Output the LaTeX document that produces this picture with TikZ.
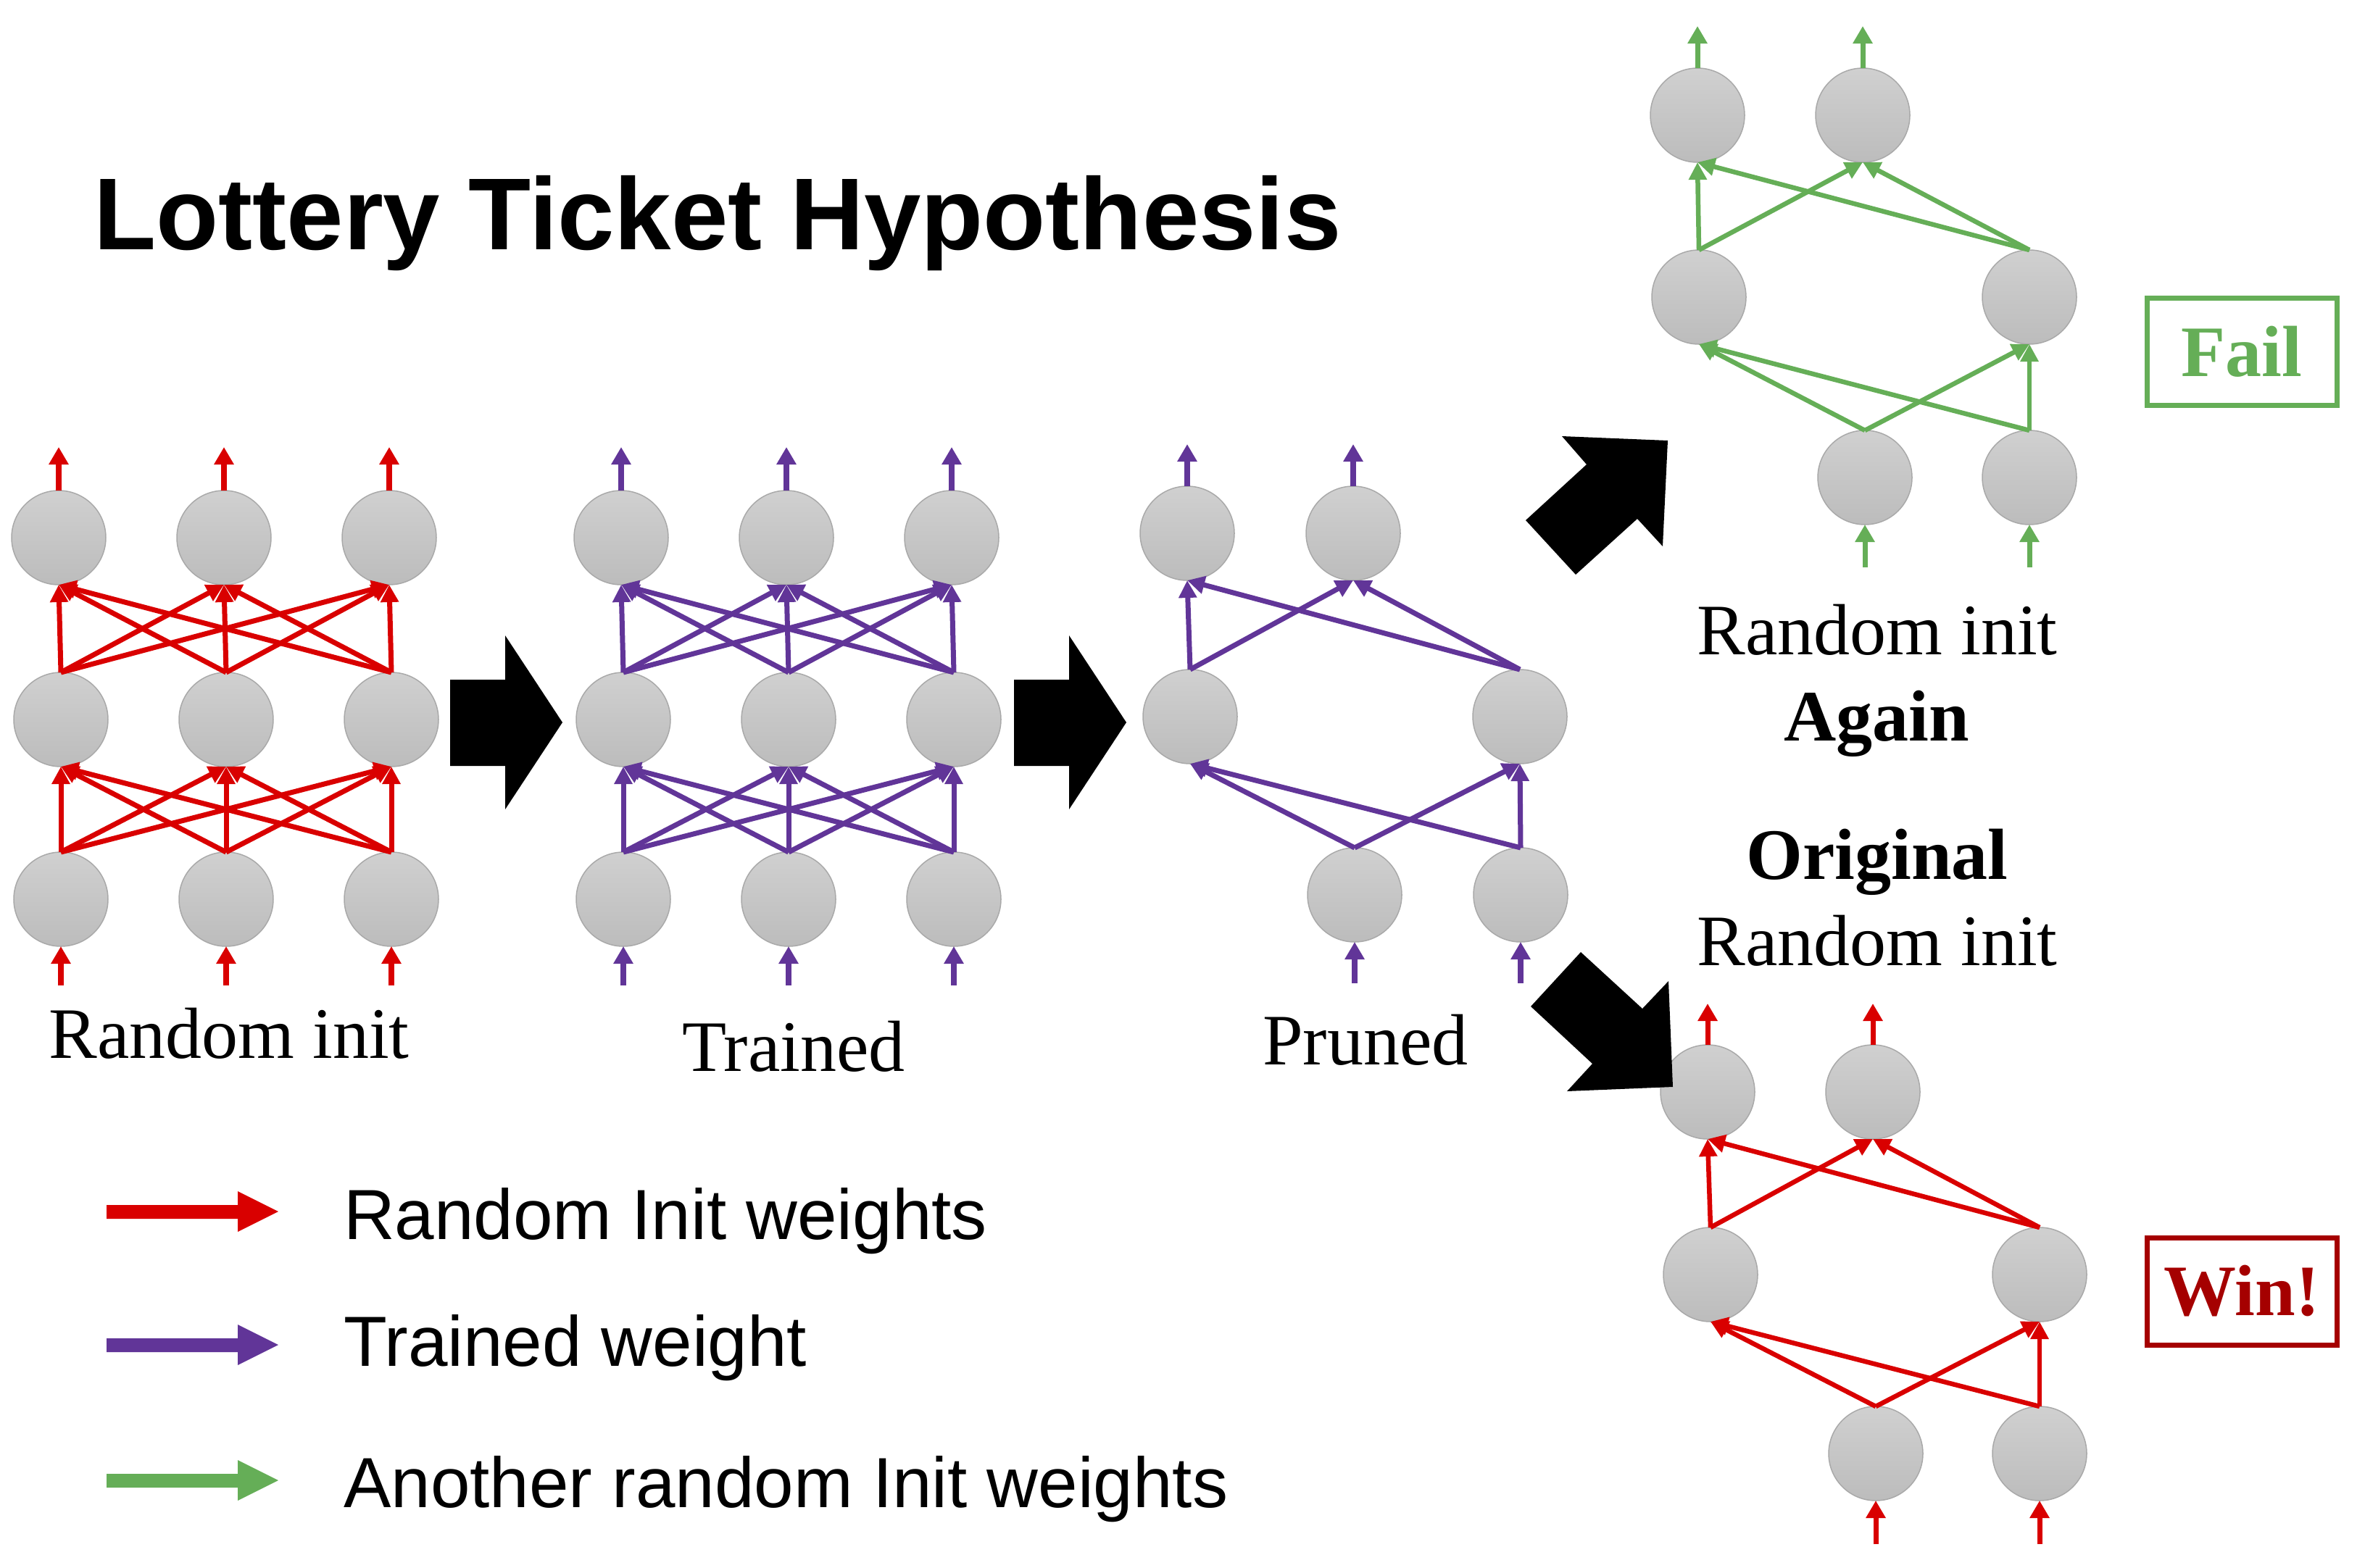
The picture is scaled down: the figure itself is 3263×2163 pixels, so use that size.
\documentclass[tikz,border=0pt]{standalone}
\usepackage{fontspec}
\setmainfont{Liberation Serif}
\setsansfont{Liberation Sans}
\usetikzlibrary{arrows.meta}
\definecolor{cred}{HTML}{D90000}
\definecolor{cpurp}{HTML}{613598}
\definecolor{cgreen}{HTML}{65AE57}
\definecolor{cwin}{HTML}{A50000}
\definecolor{ntop}{HTML}{D0D0D0}
\definecolor{nbot}{HTML}{BCBCBC}
\definecolor{nedge}{HTML}{A9A9A9}
\newcommand\lblfont{\fontsize{100}{118}\selectfont}
\begin{document}
\begin{tikzpicture}[x=1pt,y=-1pt,
  neuron/.style={circle, minimum size=130pt, inner sep=0pt, outer sep=0pt, draw=nedge, line width=1.5pt, top color=ntop, bottom color=nbot},
  wt/.style={line width=7pt, -{Triangle[width=24pt,length=24pt]}},
  io/.style={line width=8.5pt, -{Triangle[width=26pt,length=24pt]}},
  blk/.style={fill=black},
  badge/.style={draw, line width=7pt, minimum width=262pt, minimum height=148pt, inner sep=0pt, font=\lblfont\bfseries}
]
\useasboundingbox (0,0) rectangle (3263,2163);

% ---------- Title ----------
\node[anchor=base, font=\sffamily\bfseries\fontsize{141}{160}\selectfont] (title) at (990,344) {Lottery Ticket Hypothesis};

% ---------- Network 1 (random init, red) ----------
\foreach \i/\x in {1/81,2/309,3/537} {
  \node[neuron] (At\i) at (\x,742) {};
  \coordinate (Ao\i) at (\x,617);
}
\foreach \i/\x in {1/84,2/312,3/540} {
  \node[neuron] (Am\i) at (\x,993) {};
  \node[neuron] (Ab\i) at (\x,1241) {};
  \coordinate (Ai\i) at (\x,1360);
}
\foreach \i in {1,2,3} {
  \draw[io,cred] (At\i.north) -- (Ao\i);
  \draw[io,cred] (Ai\i) -- (Ab\i.south);
  \foreach \j in {1,2,3} {
    \draw[wt,cred] (Am\i.north) -- (At\j.south);
    \draw[wt,cred] (Ab\i.north) -- (Am\j.south);
  }
}
\node[anchor=base, font=\lblfont] (lab1) at (316,1460) {Random init};

% ---------- Network 2 (trained, purple) ----------
\foreach \i/\x in {1/857,2/1085,3/1313} {
  \node[neuron] (Bt\i) at (\x,742) {};
  \coordinate (Bo\i) at (\x,617);
}
\foreach \i/\x in {1/860,2/1088,3/1316} {
  \node[neuron] (Bm\i) at (\x,993) {};
  \node[neuron] (Bb\i) at (\x,1241) {};
  \coordinate (Bi\i) at (\x,1360);
}
\foreach \i in {1,2,3} {
  \draw[io,cpurp] (Bt\i.north) -- (Bo\i);
  \draw[io,cpurp] (Bi\i) -- (Bb\i.south);
  \foreach \j in {1,2,3} {
    \draw[wt,cpurp] (Bm\i.north) -- (Bt\j.south);
    \draw[wt,cpurp] (Bb\i.north) -- (Bm\j.south);
  }
}
\node[anchor=base, font=\lblfont] (lab2) at (1095,1478) {Trained};

% ---------- Network 3 (pruned, purple) ----------
\node[neuron] (Ct1) at (1638,736) {};
\node[neuron] (Ct2) at (1867,736) {};
\node[neuron] (Cm1) at (1642,989) {};
\node[neuron] (Cm2) at (2097,989) {};
\node[neuron] (Cb1) at (1869,1235) {};
\node[neuron] (Cb2) at (2098,1235) {};
\coordinate (Co1) at (1638,613);
\coordinate (Co2) at (1867,613);
\coordinate (Ci1) at (1869,1357);
\coordinate (Ci2) at (2098,1357);
\foreach \i in {1,2} {
  \draw[io,cpurp] (Ct\i.north) -- (Co\i);
  \draw[io,cpurp] (Ci\i) -- (Cb\i.south);
  \foreach \j in {1,2} {
    \draw[wt,cpurp] (Cm\i.north) -- (Ct\j.south);
    \draw[wt,cpurp] (Cb\i.north) -- (Cm\j.south);
  }
}
\node[anchor=base, font=\lblfont] (lab3) at (1884,1469) {Pruned};

% ---------- Network 4 (random init again, green) ----------
\node[neuron] (Dt1) at (2342,159) {};
\node[neuron] (Dt2) at (2570,159) {};
\node[neuron] (Dm1) at (2344,410) {};
\node[neuron] (Dm2) at (2800,410) {};
\node[neuron] (Db1) at (2573,659) {};
\node[neuron] (Db2) at (2800,659) {};
\coordinate (Do1) at (2342,36);
\coordinate (Do2) at (2570,36);
\coordinate (Di1) at (2573,783);
\coordinate (Di2) at (2800,783);
\foreach \i in {1,2} {
  \draw[io,cgreen,line width=7pt] (Dt\i.north) -- (Do\i);
  \draw[io,cgreen,line width=7pt] (Di\i) -- (Db\i.south);
  \foreach \j in {1,2} {
    \draw[wt,cgreen,line width=6.5pt] (Dm\i.north) -- (Dt\j.south);
    \draw[wt,cgreen,line width=6.5pt] (Db\i.north) -- (Dm\j.south);
  }
}
\node[badge, draw=cgreen, text=cgreen] (fail) at (3093,485) {Fail};
\node[anchor=base, font=\lblfont] (again1) at (2590,903) {Random init};
\node[anchor=base, font=\lblfont\bfseries] (again2) at (2589,1022) {Again};

% ---------- Network 5 (original random init, red) ----------
\node[anchor=base, font=\lblfont\bfseries] (orig1) at (2590,1213) {Original};
\node[anchor=base, font=\lblfont] (orig2) at (2590,1332) {Random init};
\node[neuron] (Et1) at (2356,1507) {};
\node[neuron] (Et2) at (2584,1507) {};
\node[neuron] (Em1) at (2360,1759) {};
\node[neuron] (Em2) at (2814,1759) {};
\node[neuron] (Eb1) at (2588,2006) {};
\node[neuron] (Eb2) at (2814,2006) {};
\coordinate (Eo1) at (2356,1385);
\coordinate (Eo2) at (2584,1385);
\coordinate (Ei1) at (2588,2131);
\coordinate (Ei2) at (2814,2131);
\foreach \i in {1,2} {
  \draw[io,cred,line width=7pt] (Et\i.north) -- (Eo\i);
  \draw[io,cred,line width=7pt] (Ei\i) -- (Eb\i.south);
  \foreach \j in {1,2} {
    \draw[wt,cred,line width=6.5pt] (Em\i.north) -- (Et\j.south);
    \draw[wt,cred,line width=6.5pt] (Eb\i.north) -- (Em\j.south);
  }
}
\node[badge, draw=cwin, text=cwin] (win) at (3093,1782) {Win!};

% ---------- Black block arrows ----------
\fill[blk] (621,938) -- (697,938) -- (697,877) -- (776,997) -- (697,1117) -- (697,1057) -- (621,1057) -- cycle;
\fill[blk] (1399,938) -- (1475,938) -- (1475,877) -- (1554,997) -- (1475,1117) -- (1475,1057) -- (1399,1057) -- cycle;
\fill[blk] (2155,602) -- (2301,608) -- (2294,754) -- (2259,716) -- (2174,793) -- (2105,718) -- (2189,641) -- cycle;
\fill[blk] (2181,1314) -- (2266,1392) -- (2302,1354) -- (2308,1500) -- (2162,1506) -- (2197,1468) -- (2112,1389) -- cycle;

% ---------- Legend ----------
\fill[cred] (147,1663) -- (328,1663) -- (328,1644) -- (384,1672) -- (328,1700) -- (328,1682) -- (147,1682) -- cycle;
\fill[cpurp] (147,1847) -- (328,1847) -- (328,1828) -- (384,1856) -- (328,1884) -- (328,1866) -- (147,1866) -- cycle;
\fill[cgreen] (147,2034) -- (328,2034) -- (328,2015) -- (384,2043) -- (328,2071) -- (328,2053) -- (147,2053) -- cycle;
\node[anchor=base west, inner sep=0pt, font=\sffamily\fontsize{98}{110}\selectfont] (leg1) at (474,1710) {Random Init weights};
\node[anchor=base west, inner sep=0pt, font=\sffamily\fontsize{98}{110}\selectfont] (leg2) at (474,1885) {Trained weight};
\node[anchor=base west, inner sep=0pt, font=\sffamily\fontsize{98}{110}\selectfont] (leg3) at (474,2080) {Another random Init weights};
\end{tikzpicture}
\end{document}
